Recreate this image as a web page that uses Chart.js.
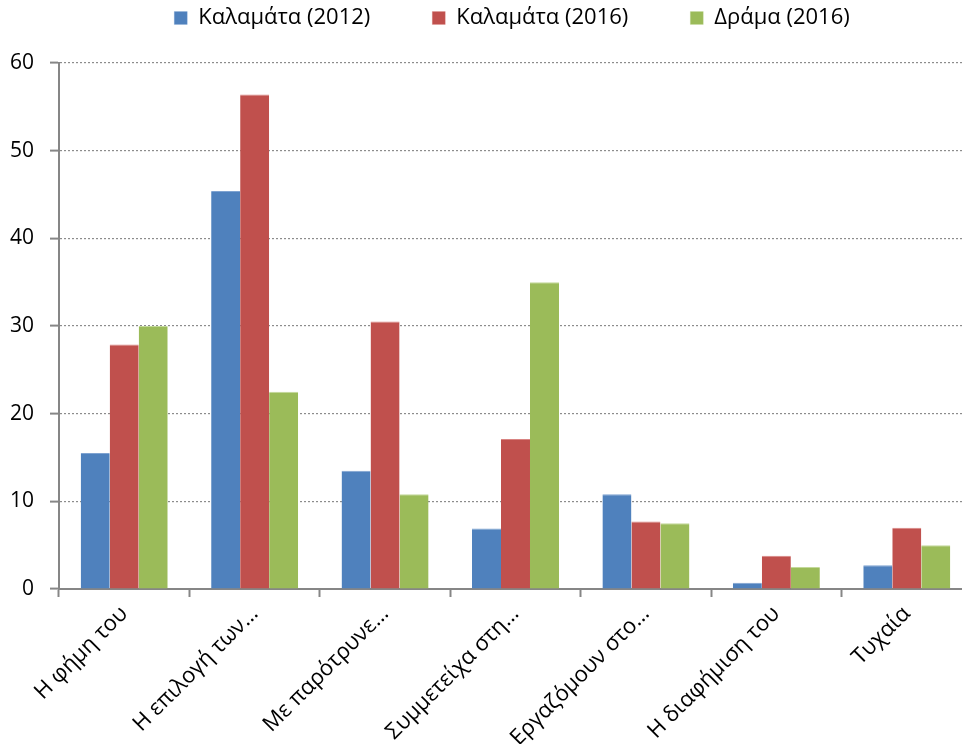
<!DOCTYPE html>
<html>
<head>
<meta charset="utf-8">
<script src="https://cdn.jsdelivr.net/npm/chart.js@4"></script>
<style>
html,body{margin:0;padding:0;background:#fff;overflow:hidden;width:962px;height:744px;}
#wrap{position:relative;width:980px;height:744px;}
</style>
</head>
<body>
<div id="wrap"><canvas id="c" width="980" height="744"></canvas></div>
<script>
const categories = ["Η φήμη του", "Η επιλογή των…", "Με παρότρυνε…", "Συμμετείχα στη…", "Εργαζόμουν στο…", "Η διαφήμιση του", "Τυχαία"];
const seriesNames = ["Καλαμάτα (2012)", "Καλαμάτα (2016)", "Δράμα (2016)"];
const kalamata2012 = [15.5, 45.4, 13.5, 6.9, 10.8, 0.7, 2.7];
const kalamata2016 = [27.9, 56.4, 30.5, 17.1, 7.7, 3.8, 7.0];
const drama2016 = [30.0, 22.5, 10.8, 35.0, 7.5, 2.5, 5.0];
const yTicks = [0, 10, 20, 30, 40, 50, 60];

const colors = ["#4F81BD", "#C0504D", "#9BBB59"];
const borders = ["#7FA3D1", "#D98482", "#C3D99A"];
const FONT = "'Open Sans', 'Noto Sans', sans-serif";
const LEGEND_PAD = 62;

const legendPlace = {
  id: 'legendPlace',
  afterLayout(chart) {
    const lg = chart.legend;
    // put legend text centre near y=18, centred over plot area
    const shiftY = LEGEND_PAD + 11 - 18;
    lg.top -= shiftY;
    lg.left += 26;
    lg.right += 26;
  }
};

new Chart(document.getElementById('c'), {
  type: 'bar',
  data: {
    labels: categories,
    datasets: [kalamata2012, kalamata2016, drama2016].map((d, i) => ({
      label: seriesNames[i],
      data: d,
      backgroundColor: colors[i],
      borderColor: borders[i],
      borderWidth: {top: 1, left: 0, right: 0, bottom: 0},
      categoryPercentage: 0.667,
      barPercentage: 1.0
    }))
  },
  plugins: [legendPlace],
  options: {
    responsive: false,
    animation: false,
    layout: {padding: {left: 0, right: 8, top: 0, bottom: 0}},
    plugins: {
      legend: {
        position: 'top',
        maxHeight: 63,
        labels: {
          boxWidth: 13, boxHeight: 13, padding: LEGEND_PAD,
          color: '#000',
          font: {family: FONT, size: 22}
        }
      },
      tooltip: {enabled: false}
    },
    scales: {
      x: {
        grid: {display: true, drawOnChartArea: false, drawTicks: true, tickLength: 8, color: '#868686', tickColor: '#868686', tickWidth: 2, offset: true},
        border: {display: true, color: '#868686', width: 2},
        ticks: {color: '#000', font: {family: FONT, size: 22}, minRotation: 45, maxRotation: 45, autoSkip: false, padding: 4},
        afterFit: s => { s.height = 744 - 589; }
      },
      y: {
        min: 0, max: 60,
        afterBuildTicks: s => { s.ticks = yTicks.map(v => ({value: v})); },
        grid: {color: '#8c8c8c', lineWidth: 1.2, tickLength: 9, tickColor: '#868686', tickWidth: 2, drawTicks: true},
        border: {display: true, color: '#868686', width: 2, dash: [2, 2]},
        ticks: {color: '#000', font: {family: FONT, size: 21}, padding: 16},
        afterFit: s => { s.width = 59; }
      }
    }
  }
});
</script>
</body>
</html>
